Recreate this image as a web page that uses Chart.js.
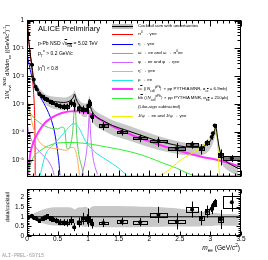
<!DOCTYPE html>
<html>
<head>
<meta charset="utf-8">
<script src="https://cdn.jsdelivr.net/npm/chart.js@4.4.1/dist/chart.umd.min.js"></script>
<style>
  body { margin: 0; width: 268px; height: 260px; position: relative; overflow: hidden; background: #fff;
         font-family: "Liberation Sans", Arial, sans-serif; }
  canvas { position: absolute; left: 0; }
  .t { position: absolute; white-space: nowrap; line-height: 1; color: #000; z-index: 5; }
  sub, sup { font-size: 70%; line-height: 0; }
  .sw { position: absolute; left: 112px; width: 21px; z-index: 5; }
</style>
</head>
<body>
<canvas id="topChart" width="268" height="184" style="top:0"></canvas>
<canvas id="ratioChart" width="268" height="78" style="top:182px"></canvas>

<div class="t" style="left:38px;top:25px;font-size:7.6px">ALICE Preliminary</div>
<div class="t" style="left:38px;top:40.5px;font-size:5px">p-Pb NSD &radic;<span style="text-decoration:overline">s<sub>NN</sub></span> = 5.02 TeV</div>
<div class="t" style="left:38px;top:51px;font-size:5px"><i>p</i><sub>T</sub><sup>e</sup> &gt; 0.2 GeV/<i>c</i></div>
<div class="t" style="left:38px;top:66px;font-size:5px">|<i>&eta;</i><sup>e</sup>| &lt; 0.8</div>

<div class="t" style="left:8px;top:62px;font-size:5.6px;transform:translate(-50%,-50%) rotate(-90deg)">1/<i>N</i><sub>evt</sub><sup>NSD</sup> d<i>N</i>/d<i>m</i><sub>ee</sub> ((GeV/<i>c</i><sup>2</sup>)<sup>-1</sup>)</div>
<div class="t" style="left:8px;top:207px;font-size:5.4px;transform:translate(-50%,-50%) rotate(-90deg)">data/cocktail</div>
<div class="t" style="right:28px;top:245px;font-size:6.6px"><i>m</i><sub>ee</sub> (GeV/<i>c</i><sup>2</sup>)</div>
<div class="t" style="left:2px;top:254px;font-size:5px;color:#999;font-family:'Liberation Mono',monospace">ALI-PREL-69715</div>

<div id="legend"></div>

<script>
// ---- data ----
const massBins = [0.02, 0.08, 0.11, 0.14, 0.16, 0.20, 0.25, 0.29, 0.33, 0.38, 0.42, 0.48, 0.54, 0.60, 0.65, 0.72, 0.77, 0.85,
  0.92, 0.98, 1.00, 1.03, 1.06, 1.25, 1.55, 1.85, 2.15, 2.45, 2.70, 2.85, 2.94, 3.02, 3.04, 3.07, 3.17, 3.35];
const yieldValues = [0.33, 0.026, 7.6e-3, 4.2e-3, 3.4e-3, 2.3e-3, 1.9e-3, 1.6e-3, 1.5e-3, 1.25e-3, 1.1e-3, 9.5e-4, 8.6e-4, 8.2e-4,
  8.2e-4, 1.1e-3, 1.0e-3, 7.2e-4, 6.6e-4, 6.3e-4, 8.8e-4, 1.1e-3, 3.6e-4, 1.7e-4, 1.0e-4, 6.1e-5, 4.7e-5, 2.6e-5, 3.6e-5,
  2.6e-5, 4.2e-5, 6.6e-5, 9e-5, 1.7e-4, 1.5e-5, 1.15e-5];
const ratioValues = [1.00, 1.05, 0.95, 0.93, 0.88, 0.80, 0.90, 0.97, 1.02, 0.93, 0.87, 0.80, 0.72, 0.70, 0.68, 0.79, 0.46, 0.71,
  0.90, 0.87, 0.95, 0.80, 0.64, 0.68, 0.76, 0.72, 1.10, 0.76, 1.38, 0.93, 1.27, 1.42, 1.57, 1.72, 0.86, 1.76];
const statRel = [0.03, 0.05, 0.06, 0.06, 0.07, 0.07, 0.08, 0.09, 0.1, 0.12, 0.14, 0.18, 0.22, 0.25, 0.28, 0.28, 0.45, 0.36,
  0.34, 0.3, 0.5, 0.3, 0.4, 0.32, 0.26, 0.3, 0.38, 0.55, 0.3, 0.4, 0.25, 0.2, 0.15, 0.12, 0.58, 0.28];
const systRel = [0.05, 0.06, 0.06, 0.07, 0.07, 0.08, 0.08, 0.09, 0.1, 0.1, 0.1, 0.1, 0.1, 0.1, 0.1, 0.1, 0.12, 0.12,
  0.12, 0.12, 0.12, 0.12, 0.12, 0.1, 0.1, 0.1, 0.1, 0.1, 0.1, 0.1, 0.1, 0.1, 0.1, 0.1, 0.15, 0.17];
const binHalf = [0.01, 0.01, 0.01, 0.01, 0.01, 0.015, 0.02, 0.02, 0.02, 0.025, 0.025, 0.03, 0.03, 0.03, 0.03, 0.025, 0.02, 0.03,
  0.03, 0.01, 0.01, 0.01, 0.02, 0.07, 0.08, 0.12, 0.14, 0.14, 0.1, 0.04, 0.03, 0.01, 0.01, 0.015, 0.04, 0.15];

const cocktailMass = [0.01, 0.02, 0.03, 0.04, 0.06, 0.08, 0.10, 0.12, 0.14, 0.16, 0.20, 0.25, 0.30, 0.40, 0.50, 0.60, 0.66, 0.72,
  0.76, 0.78, 0.80, 0.84, 0.90, 0.96, 1.00, 1.02, 1.04, 1.08, 1.15, 1.25, 1.40, 1.60, 1.80, 2.00, 2.20, 2.40, 2.60, 2.80, 2.90,
  2.98, 3.03, 3.06, 3.09, 3.11, 3.14, 3.18, 3.25, 3.35, 3.45];
const cocktailSum = [0.9, 0.3, 0.18, 0.11, 0.05, 0.024, 0.011, 6e-3, 4.5e-3, 3.8e-3, 2.8e-3, 2.1e-3, 1.6e-3, 1.3e-3, 1.2e-3,
  1.15e-3, 1.2e-3, 1.4e-3, 1.8e-3, 2.3e-3, 1.6e-3, 1.05e-3, 7.5e-4, 7e-4, 9e-4, 1.5e-3, 8e-4, 4.8e-4, 3.3e-4, 2.5e-4, 1.7e-4,
  1.2e-4, 8.5e-5, 6e-5, 4.4e-5, 3.5e-5, 2.9e-5, 2.8e-5, 3.1e-5, 4.2e-5, 6.5e-5, 1.0e-4, 1.5e-4, 8e-5, 3e-5, 1.5e-5, 9e-6,
  6.5e-6, 5e-6];
const ratioBandHi = [1.1, 1.1, 1.1, 1.1, 1.12, 1.12, 1.15, 1.2, 1.22, 1.25, 1.3, 1.36, 1.42, 1.48, 1.5, 1.5, 1.5, 1.48,
  1.42, 1.38, 1.42, 1.48, 1.5, 1.52, 1.45, 1.4, 1.48, 1.55, 1.56, 1.56, 1.56, 1.55, 1.54, 1.52, 1.5, 1.45, 1.38, 1.3, 1.25,
  1.22, 1.2, 1.2, 1.2, 1.2, 1.18, 1.16, 1.15, 1.14, 1.12];
const ratioBandLo = [0.9, 0.9, 0.9, 0.9, 0.89, 0.88, 0.87, 0.85, 0.83, 0.8, 0.75, 0.68, 0.62, 0.56, 0.54, 0.53, 0.53, 0.55,
  0.6, 0.62, 0.6, 0.55, 0.5, 0.48, 0.52, 0.55, 0.5, 0.46, 0.45, 0.45, 0.45, 0.46, 0.46, 0.47, 0.48, 0.49, 0.5, 0.5, 0.51,
  0.52, 0.52, 0.53, 0.54, 0.54, 0.54, 0.54, 0.53, 0.53, 0.53];

const piMass = [0.005, 0.01, 0.02, 0.04, 0.06, 0.08, 0.10, 0.11, 0.12, 0.125, 0.13, 0.133, 0.135];
const piVals = [1.5, 0.8, 0.3, 0.11, 0.045, 0.018, 4.5e-3, 2.2e-3, 8e-4, 3e-4, 7e-5, 1e-5, 1e-6];
const etaMass = [0.005, 0.02, 0.05, 0.10, 0.15, 0.20, 0.25, 0.30, 0.35, 0.40, 0.45, 0.50, 0.53, 0.548];
const etaVals = [0.06, 0.04, 0.018, 6.5e-3, 3.4e-3, 2.1e-3, 1.35e-3, 8.5e-4, 5e-4, 2.6e-4, 1e-4, 2e-5, 5e-6, 1e-6];
const omegaMass = [0.005, 0.02, 0.05, 0.10, 0.20, 0.30, 0.40, 0.50, 0.58, 0.62, 0.645, 0.66, 0.72, 0.75, 0.77, 0.782, 0.795,
  0.81, 0.84, 0.90, 0.95];
const omegaVals = [1.2e-3, 8e-4, 5e-4, 3.5e-4, 2.2e-4, 1.6e-4, 1.35e-4, 1.3e-4, 1.5e-4, 1.1e-4, 3e-5, 2.5e-5, 4e-5, 1.2e-4,
  6e-4, 1.5e-3, 6e-4, 1e-4, 2e-5, 5e-6, 1.5e-6];
const phiMass = [0.005, 0.02, 0.05, 0.10, 0.20, 0.30, 0.38, 0.44, 0.47, 0.6, 0.90, 0.96, 0.995, 1.012, 1.019, 1.026, 1.045,
  1.08, 1.15];
const phiVals = [2e-4, 1.2e-4, 7e-5, 4e-5, 2e-5, 1.2e-5, 7e-6, 3e-6, 1e-6, null, 3e-6, 1.2e-5, 6e-5, 3e-4, 6e-4, 3e-4, 6e-5,
  1.2e-5, 3e-6];
const etapMass = [0.005, 0.02, 0.05, 0.10, 0.20, 0.30, 0.50, 0.65, 0.72, 0.78, 0.82, 0.85, 0.88];
const etapVals = [1.5e-3, 1e-3, 5e-4, 1.5e-4, 4.5e-5, 3e-5, 2.5e-5, 2.2e-5, 2.8e-5, 2.5e-5, 1.2e-5, 4e-6, 1e-6];
const rhoMass = [0.20, 0.30, 0.40, 0.50, 0.60, 0.70, 0.77, 0.85, 0.95, 1.10, 1.30, 1.50, 1.70];
const rhoVals = [2e-6, 1.5e-5, 3e-5, 5e-5, 9e-5, 1.6e-4, 2e-4, 1.4e-4, 5e-5, 2e-5, 1e-5, 5e-6, 2e-6];
const ccMass = [0.02, 0.05, 0.10, 0.20, 0.30, 0.40, 0.50, 0.60, 0.70, 0.80, 0.90, 1.00, 1.10, 1.20, 1.40, 1.60, 1.80, 2.00,
  2.30, 2.60, 2.85, 3.10, 3.30, 3.50];
const ccVals = [3e-6, 1.5e-5, 4e-5, 1.1e-4, 2.2e-4, 3.2e-4, 4.2e-4, 5e-4, 5.5e-4, 5.6e-4, 5.4e-4, 4.9e-4, 3.8e-4, 2.8e-4,
  1.6e-4, 1e-4, 6.5e-5, 4.6e-5, 2.8e-5, 1.8e-5, 1.3e-5, 1e-5, 7.8e-6, 5.5e-6];
const bbMass = [0.0, 0.1, 0.2, 0.35, 0.5, 0.7, 0.9, 1.1, 1.3, 1.5, 1.75, 2.0, 2.2, 2.45, 2.6, 2.76, 3.5];
const bbVals = [3e-6, 1.2e-5, 2e-5, 3.2e-5, 4e-5, 4.2e-5, 4e-5, 3.5e-5, 2.9e-5, 2.4e-5, 1.8e-5, 1.2e-5, 8e-6, 5e-6, 3.5e-6,
  2.7e-6, 2.7e-6];
const jpsiMass = [0.0, 2.15, 2.3, 2.46, 2.6, 2.79, 2.9, 3.0, 3.05, 3.08, 3.1, 3.12, 3.14, 3.16];
const jpsiVals = [2.7e-6, 2.7e-6, 4e-6, 8e-6, 1.3e-5, 2.3e-5, 3.5e-5, 6.6e-5, 1e-4, 1.35e-4, 1.2e-4, 3e-5, 5e-6, 1e-6];

const xTickValues = [0, 0.5, 1, 1.5, 2, 2.5, 3, 3.5];
const xTickLabels = ['0', '0.5', '1', '1.5', '2', '2.5', '3', '3.5'];
const yTickValues = [1e-5, 1e-4, 1e-3, 1e-2, 1e-1, 1];
const yTickLabels = ['10\u207B\u2075', '10\u207B\u2074', '10\u207B\u00B3', '10\u207B\u00B2', '10\u207B\u00B9', '1'];
const ratioTickValues = [0, 0.5, 1, 1.5, 2];
const ratioTickLabels = ['0', '0.5', '1', '1.5', '2'];

const legendLabels = [
  'Cocktail sum with uncertainties',
  '&pi;<sup>0</sup> &rarr; &gamma;ee',
  '&eta; &rarr; &gamma;ee',
  '&omega; &rarr; ee and &omega; &rarr; &pi;<sup>0</sup>ee',
  '&phi; &rarr; ee and &phi; &rarr; &eta;ee',
  '&eta;\' &rarr; &gamma;ee',
  '&rho; &rarr; ee',
  'c<span style="text-decoration:overline">c</span> (&lang;<i>N</i><sub>coll</sub><sup>pPb</sup>&rang; &times; pp PYTHIA MNR, &sigma;<sub>c<span style="text-decoration:overline">c</span></sub> = 6.9mb)',
  'b<span style="text-decoration:overline">b</span> (&lang;<i>N</i><sub>coll</sub><sup>pPb</sup>&rang; &times; pp PYTHIA MNR, &sigma;<sub>b<span style="text-decoration:overline">b</span></sub> = 210&mu;b)',
  '(Like-sign subtracted)',
  'J/&psi; &rarr; ee and J/&psi; &rarr; &gamma;ee'
];
const legendColors = ['band', '#ff0000', '#0000ff', '#55cc55', '#cc66ff', '#ffaa55', '#22e5e5', '#ff33ff', '#33ee33', null, '#f0f000'];
const legendRowY = [26.7, 34.3, 44, 53.3, 62.3, 71.3, 80.3, 89.3, 98.7, 107.7, 116.7];

// legend as html
const legendBox = document.getElementById('legend');
legendLabels.forEach((txt, i) => {
  const y = legendRowY[i];
  const col = legendColors[i];
  if (col === 'band') {
    legendBox.insertAdjacentHTML('beforeend',
      `<div class="sw" style="top:${y - 2.5}px;height:5px;background:#c0c0c0"></div>` +
      `<div class="sw" style="top:${y - 0.5}px;height:1px;background:#000"></div>`);
  } else if (col) {
    const w = i === 7 ? 2 : 1;
    legendBox.insertAdjacentHTML('beforeend', `<div class="sw" style="top:${y - w / 2}px;height:${w}px;background:${col}"></div>`);
  }
  legendBox.insertAdjacentHTML('beforeend', `<div class="t" style="left:138px;top:${y - 2.3}px;font-size:4.4px">${txt}</div>`);
});

const pts = (ms, vs) => ms.map((m, i) => ({ x: m, y: vs[i] }));
const bandColor = '#c8c8c8';

// frame with inward ticks on all four sides
const frameTicks = {
  id: 'frameTicks',
  afterDraw(chart, args, opts) {
    const { ctx, chartArea: a } = chart;
    const xs = chart.scales.x, ys = chart.scales.y;
    const L = Math.round(a.left) + 0.5, R = Math.round(a.right) - 0.5;
    const T = Math.round(a.top) + 0.5, B = Math.round(a.bottom) - 0.5;
    ctx.save();
    ctx.strokeStyle = '#000';
    ctx.lineWidth = 1;
    ctx.beginPath();
    for (let k = 0; k <= 35; k++) {
      const px = Math.round(xs.getPixelForValue(k / 10)) + 0.5;
      const len = k % 5 === 0 ? opts.xMajor : opts.xMinor;
      ctx.moveTo(px, B); ctx.lineTo(px, B - len);
      ctx.moveTo(px, T); ctx.lineTo(px, T + len);
    }
    opts.yTicks.forEach(([v, major]) => {
      if (v < ys.min || v > ys.max) return;
      const py = Math.round(ys.getPixelForValue(v)) + 0.5;
      const len = major ? opts.yMajor : opts.yMinor;
      ctx.moveTo(L, py); ctx.lineTo(L + len, py);
      ctx.moveTo(R, py); ctx.lineTo(R - len, py);
    });
    ctx.stroke();
    ctx.strokeRect(L, T, R - L, B - T);
    ctx.restore();
  }
};

// stat. error bars and syst. boxes, drawn just under the markers
const errorBoxes = {
  id: 'errorBoxes',
  beforeDatasetDraw(chart, args) {
    const ds = chart.data.datasets[args.index];
    if (!ds.statRel) return;
    const { ctx, chartArea: a } = chart;
    const xs = chart.scales.x, ys = chart.scales.y;
    ctx.save();
    ctx.beginPath();
    ctx.rect(a.left, a.top, a.right - a.left, a.bottom - a.top);
    ctx.clip();
    ctx.lineWidth = 1;
    ctx.strokeStyle = '#000';
    ds.data.forEach((p, i) => {
      const x1 = Math.round(xs.getPixelForValue(p.x - ds.binHalf[i]));
      const x2 = Math.round(xs.getPixelForValue(p.x + ds.binHalf[i]));
      const yt = Math.round(ys.getPixelForValue(p.y * (1 + ds.systRel[i])));
      const yb = Math.round(ys.getPixelForValue(p.y * (1 - ds.systRel[i])));
      if (ds.boxFill) {
        ctx.fillStyle = ds.boxFill;
        ctx.fillRect(x1, yt, x2 - x1, yb - yt);
      }
      ctx.strokeRect(x1 + 0.5, yt + 0.5, Math.max(x2 - x1, 1), Math.max(yb - yt, 1));
      const xc = Math.round(xs.getPixelForValue(p.x)) + 0.5;
      ctx.beginPath();
      ctx.moveTo(xc, ys.getPixelForValue(p.y * (1 + ds.statRel[i])));
      ctx.lineTo(xc, ys.getPixelForValue(p.y * (1 - ds.statRel[i])));
      ctx.stroke();
    });
    ctx.restore();
  }
};

const logTicks = [];
for (let e = -6; e <= 0; e++) {
  for (let k = 1; k <= 9; k++) logTicks.push([k * Math.pow(10, e), k === 1]);
}
const ratioTicks = [];
for (let k = 0; k <= 24; k++) ratioTicks.push([k / 10, k % 5 === 0]);

const line = (data, color, order, width) => ({
  type: 'line', data, borderColor: color, borderWidth: width || 1, pointRadius: 0,
  cubicInterpolationMode: 'monotone', fill: false, order
});

Chart.defaults.font.family = '"Liberation Sans", Arial, sans-serif';
Chart.defaults.color = '#000';

new Chart(document.getElementById('topChart'), {
  type: 'line',
  data: {
    datasets: [
      Object.assign(line(pts(massBins, yieldValues), '#000', 0), {
        type: 'scatter', pointRadius: 2, pointBackgroundColor: '#000', pointBorderWidth: 0,
        statRel, systRel, binHalf, boxFill: '#7a7a7a'
      }),
      line(pts(cocktailMass, cocktailSum), '#000', 1),
      line(pts(jpsiMass, jpsiVals), '#f0f000', 2),
      line(pts(bbMass, bbVals), '#33ee33', 2),
      line(pts(ccMass, ccVals), '#ff33ff', 2, 2),
      line(pts(rhoMass, rhoVals), '#22e5e5', 2),
      line(pts(etapMass, etapVals), '#ffaa55', 2),
      line(pts(phiMass, phiVals), '#cc66ff', 2),
      line(pts(omegaMass, omegaVals), '#55cc55', 2),
      line(pts(etaMass, etaVals), '#0000ff', 2),
      line(pts(piMass, piVals), '#ff0000', 2),
      Object.assign(line(cocktailMass.map((m, i) => ({ x: m, y: cocktailSum[i] * ratioBandHi[i] })), 'rgba(0,0,0,0)', 5, 0),
        { fill: '+1', backgroundColor: bandColor }),
      line(cocktailMass.map((m, i) => ({ x: m, y: cocktailSum[i] * ratioBandLo[i] })), 'rgba(0,0,0,0)', 6, 0)
    ]
  },
  options: {
    responsive: false,
    animation: false,
    devicePixelRatio: 1,
    layout: { padding: { top: 20, right: 27, bottom: 2, left: 0 } },
    plugins: {
      legend: { display: false },
      tooltip: { enabled: false },
      frameTicks: { xMajor: 6, xMinor: 3, yMajor: 6, yMinor: 3, yTicks: logTicks }
    },
    scales: {
      x: { type: 'linear', min: 0, max: 3.5, display: false },
      y: {
        type: 'logarithmic', min: 2.4e-6, max: 1.05,
        afterBuildTicks: s => { s.ticks = yTickValues.map(v => ({ value: v })); },
        afterFit: s => { s.width = 27; },
        ticks: { callback: (v, i) => yTickLabels[i], autoSkip: false, font: { size: 6.5 }, padding: 3 },
        grid: { display: false, drawTicks: false },
        border: { display: false }
      }
    }
  },
  plugins: [errorBoxes, frameTicks]
});

new Chart(document.getElementById('ratioChart'), {
  type: 'line',
  data: {
    datasets: [
      Object.assign(line(pts(massBins, ratioValues), '#000', 0), {
        type: 'scatter', pointRadius: 2, pointBackgroundColor: '#000', pointBorderWidth: 0,
        statRel, systRel, binHalf
      }),
      line([{ x: 0, y: 1 }, { x: 3.5, y: 1 }], '#000', 1),
      Object.assign(line(pts(cocktailMass, ratioBandHi), 'rgba(0,0,0,0)', 5, 0), { fill: '+1', backgroundColor: bandColor }),
      line(pts(cocktailMass, ratioBandLo), 'rgba(0,0,0,0)', 6, 0)
    ]
  },
  options: {
    responsive: false,
    animation: false,
    devicePixelRatio: 1,
    layout: { padding: { top: 0, right: 27, bottom: 0, left: 0 } },
    plugins: {
      legend: { display: false },
      tooltip: { enabled: false },
      frameTicks: { xMajor: 4, xMinor: 2, yMajor: 4, yMinor: 2, yTicks: ratioTicks }
    },
    scales: {
      x: {
        type: 'linear', min: 0, max: 3.5,
        afterBuildTicks: s => { s.ticks = xTickValues.map(v => ({ value: v })); },
        afterFit: s => { s.height = 24; },
        ticks: { callback: (v, i) => xTickLabels[i], autoSkip: false, maxRotation: 0, font: { size: 6.5 }, padding: -1 },
        grid: { display: false, drawTicks: false },
        border: { display: false }
      },
      y: {
        type: 'linear', min: 0, max: 2.45,
        afterBuildTicks: s => { s.ticks = ratioTickValues.map(v => ({ value: v })); },
        afterFit: s => { s.width = 27; },
        ticks: { callback: (v, i) => ratioTickLabels[i], autoSkip: false, font: { size: 6.5 }, padding: 3 },
        grid: { display: false, drawTicks: false },
        border: { display: false }
      }
    }
  },
  plugins: [errorBoxes, frameTicks]
});
</script>
</body>
</html>
